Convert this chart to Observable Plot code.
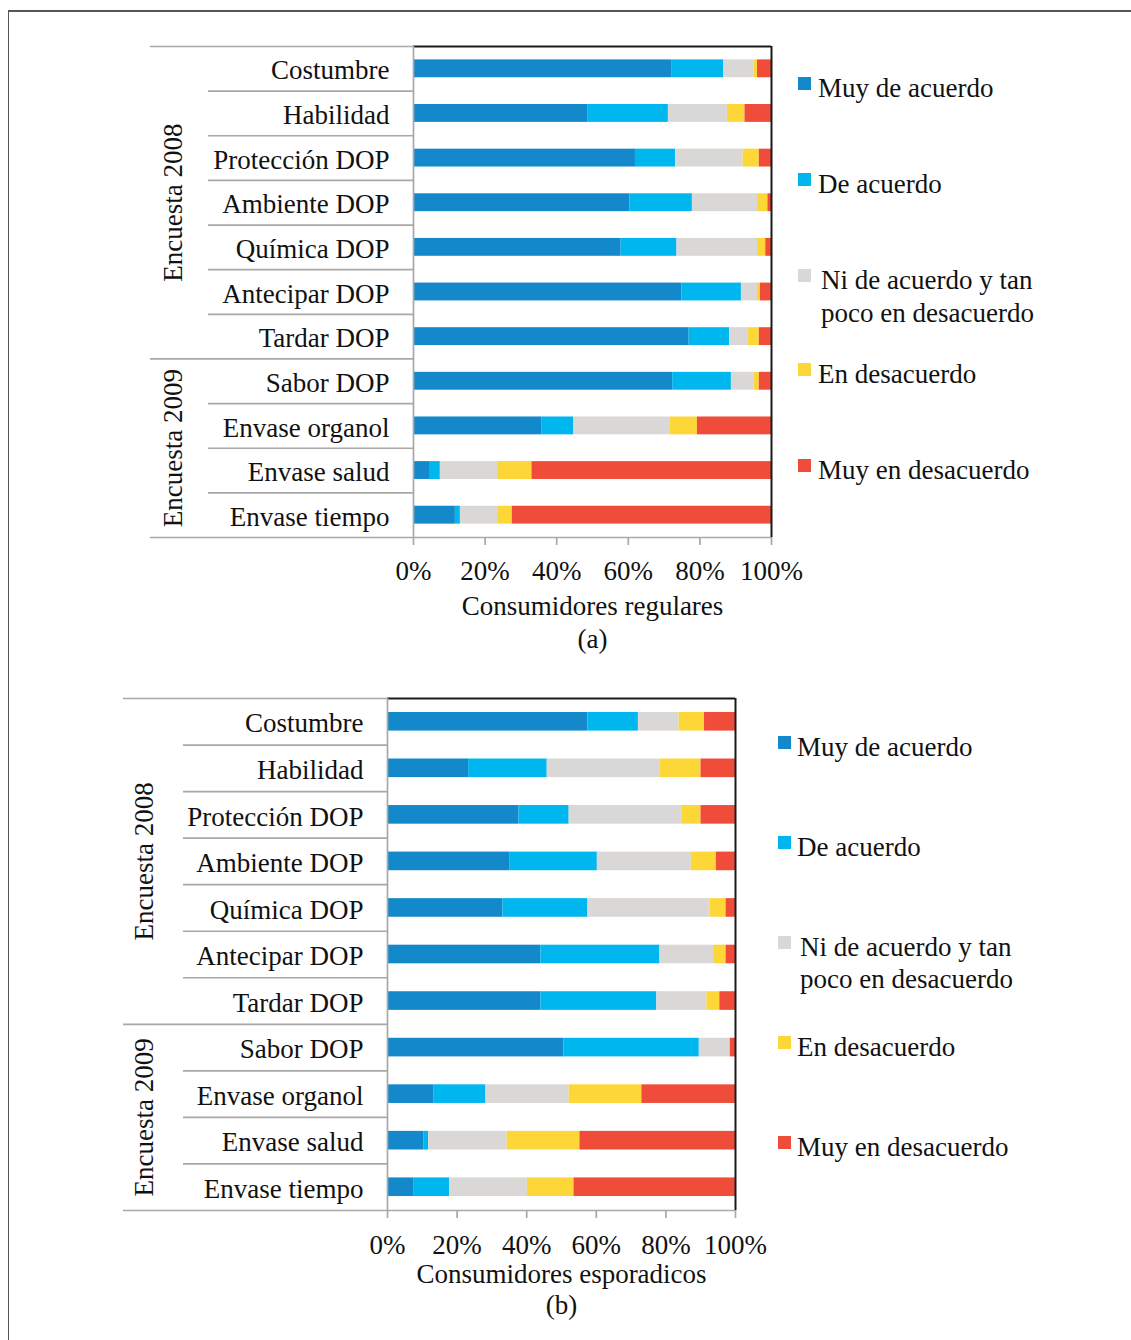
<!DOCTYPE html>
<html><head><meta charset="utf-8">
<script src="https://cdn.jsdelivr.net/npm/d3@7"></script>
<script src="https://cdn.jsdelivr.net/npm/@observablehq/plot@0.6"></script>
<style>
body{margin:0;background:#fff;}
#root{position:relative;width:1131px;height:1340px;overflow:hidden;font-family:"Liberation Serif","Times New Roman",serif;color:#111;background:#fff;}
.frame{position:absolute;left:8px;top:10px;width:1200px;height:1400px;border-top:2px solid #555;border-left:1.5px solid #555;}
.panel{position:absolute;left:0;}
.lg{position:absolute;font-size:27px;line-height:33px;white-space:nowrap;color:#111;}
.sq{position:absolute;width:13px;height:13px;}
</style></head><body><div id="root"><div class="frame"></div></div>
<script>
// ---------- data ----------
const categories = ["Costumbre","Habilidad","Protección DOP","Ambiente DOP","Química DOP","Antecipar DOP","Tardar DOP","Sabor DOP","Envase organol","Envase salud","Envase tiempo"];
const responses = ["Muy de acuerdo","De acuerdo","Ni de acuerdo y tan poco en desacuerdo","En desacuerdo","Muy en desacuerdo"];
const legendLines = [["Muy de acuerdo"],["De acuerdo"],["Ni de acuerdo y tan","poco en desacuerdo"],["En desacuerdo"],["Muy en desacuerdo"]];
const colors = ["#1388CB","#00B6EF","#D9D8D6","#FDD637","#EF4C3A"];
const groupLabels = ["Encuesta 2008","Encuesta 2009"];
const groupFirst = [0,7];
const groupLast = [6,10];
const xTicks = [0,20,40,60,80,100];

// (a) Consumidores regulares (%)
const regMuyDeAcuerdo     = [72.1,48.8,62.0,60.5,58.0,75.0,77.0,72.4,35.8, 4.7,11.7];
const regDeAcuerdo        = [14.6,22.4,11.2,17.4,15.6,16.6,11.3,16.4, 9.0, 2.8, 1.4];
const regNi               = [ 8.4,16.5,18.9,18.2,22.5, 4.5, 5.3, 6.4,26.8,16.0,10.4];
const regEnDesacuerdo     = [ 1.0, 4.9, 4.5, 2.9, 2.3, 0.8, 3.0, 1.4, 7.7, 9.6, 4.1];
const regMuyEnDesacuerdo  = [ 3.9, 7.4, 3.4, 1.0, 1.6, 3.1, 3.4, 3.4,20.7,66.9,72.4];

// (b) Consumidores esporadicos (%)
const espMuyDeAcuerdo     = [57.6,23.3,37.8,35.1,33.2,44.1,44.1,50.7,13.4,10.4, 7.5];
const espDeAcuerdo        = [14.5,22.6,14.4,25.2,24.4,34.2,33.3,38.9,14.9, 1.4,10.4];
const espNi               = [11.7,32.4,32.4,27.0,35.1,15.4,14.4, 8.9,23.9,22.6,22.3];
const espEnDesacuerdo     = [ 7.3,11.8, 5.5, 7.2, 4.6, 3.6, 3.7, 0.0,20.9,20.9,13.4];
const espMuyEnDesacuerdo  = [ 8.9, 9.9, 9.9, 5.5, 2.7, 2.7, 4.5, 1.5,26.9,44.7,46.4];

// ---------- drawing ----------
const GRAY = "#a8a8a8";
const FONT = 27;
const root = document.getElementById("root");

function panel(cfg) {
  const {series, top, height, mTop, mBottom, mLeft, mRight, xLong, xShort, xGroup,
         tickPad, titleDy, subDy, title, sub} = cfg;
  const data = [];
  categories.forEach((c, i) => responses.forEach((r, j) => data.push({cat: c, resp: r, value: series[j][i]})));
  const width = 1131;
  const plotW = width - mLeft - mRight;
  const step = (height - mTop - mBottom) / categories.length;
  const px2x = p => (p - mLeft) / plotW * 100;
  const firsts = new Set(groupFirst);
  const shortCats = categories.filter((c, i) => !firsts.has(i));
  const longCats = groupFirst.map(i => categories[i]);
  const groupMarks = groupLabels.map((g, k) => {
    const ci = (groupFirst[k] + groupLast[k]) / 2;
    const fi = Math.floor(ci);
    return Plot.text([g], {y: () => categories[fi], text: d => d, frameAnchor: "left",
      dx: xGroup - mLeft, dy: (ci - fi) * step, rotate: -90, textAnchor: "middle", lineAnchor: "middle", fontSize: FONT});
  });
  const svg = Plot.plot({
    width, height,
    marginTop: mTop, marginBottom: mBottom, marginLeft: mLeft, marginRight: mRight,
    style: {fontFamily: '"Liberation Serif","Times New Roman",serif', fontSize: FONT + "px", color: "#111", background: "transparent", overflow: "visible"},
    x: {domain: [0, 100], round: false},
    y: {domain: categories, paddingInner: 0.6, paddingOuter: 0.3, round: false, axis: null},
    color: {domain: responses, range: colors},
    marks: [
      Plot.barX(data, Plot.stackX({x: "value", y: "cat", fill: "resp", order: responses})),
      // row separators
      Plot.ruleY(shortCats, {y: d => d, dy: -step / 2, x1: px2x(xShort), x2: 0, stroke: GRAY, strokeWidth: 1.7}),
      Plot.ruleY(longCats, {y: d => d, dy: -step / 2, x1: px2x(xLong), x2: 0, stroke: GRAY, strokeWidth: 1.7}),
      Plot.ruleY([categories[categories.length - 1]], {y: d => d, dy: step / 2, x1: px2x(xLong), x2: 100, stroke: GRAY, strokeWidth: 1.7}),
      // plot area border
      Plot.ruleY([categories[0]], {y: d => d, dy: -step / 2, x1: 0, x2: 100, stroke: "#1a1a1a", strokeWidth: 2}),
      Plot.ruleX([100], {stroke: "#1a1a1a", strokeWidth: 2}),
      Plot.ruleX([0], {stroke: GRAY, strokeWidth: 1.7}),
      // axes
      Plot.axisX({ticks: xTicks, tickFormat: d => d + "%", tickSize: 8, tickPadding: tickPad, fontSize: FONT, stroke: GRAY, strokeWidth: 1.7, label: null}),
      Plot.text(categories, {y: d => d, text: d => d, frameAnchor: "left", dx: -24, dy: 2, textAnchor: "end", lineAnchor: "middle", fontSize: FONT}),
      ...groupMarks,
      Plot.text([title], {text: d => d, frameAnchor: "bottom", lineAnchor: "middle", dy: titleDy, fontSize: FONT}),
      Plot.text([sub], {text: d => d, frameAnchor: "bottom", lineAnchor: "middle", dy: subDy, fontSize: FONT})
    ]
  });
  svg.classList.add("panel");
  svg.style.top = top + "px";
  root.appendChild(svg);

  // legend
  const {lgSqX, lgTextX, lgBaselines, lgLine2} = cfg;
  responses.forEach((r, j) => {
    const b = lgBaselines[j];
    const sq = document.createElement("div");
    sq.className = "sq";
    sq.style.left = lgSqX + "px";
    sq.style.top = (b - 18) + "px";
    sq.style.background = colors[j];
    root.appendChild(sq);
    legendLines[j].forEach((line, k) => {
      const t = document.createElement("div");
      t.className = "lg";
      t.textContent = line;
      t.style.left = (lgTextX + (legendLines[j].length > 1 ? 3 : 0)) + "px";
      t.style.top = (b + k * lgLine2 - 23) + "px";
      root.appendChild(t);
    });
  });
}

panel({
  series: [regMuyDeAcuerdo, regDeAcuerdo, regNi, regEnDesacuerdo, regMuyEnDesacuerdo],
  top: 0, height: 660, mTop: 46, mBottom: 123, mLeft: 413, mRight: 360,
  xLong: 150, xShort: 208, xGroup: 173, tickPad: 15, titleDy: 69, subDy: 102,
  title: "Consumidores regulares", sub: "(a)",
  lgSqX: 798, lgTextX: 818, lgBaselines: [95, 191, 287, 381, 477], lgLine2: 33
});
panel({
  series: [espMuyDeAcuerdo, espDeAcuerdo, espNi, espEnDesacuerdo, espMuyEnDesacuerdo],
  top: 660, height: 680, mTop: 38, mBottom: 130, mLeft: 387, mRight: 396,
  xLong: 123, xShort: 183, xGroup: 144, tickPad: 16, titleDy: 64, subDy: 95,
  title: "Consumidores esporadicos", sub: "(b)",
  lgSqX: 778, lgTextX: 797, lgBaselines: [754, 854, 954, 1054, 1154], lgLine2: 32
});
</script></body></html>
